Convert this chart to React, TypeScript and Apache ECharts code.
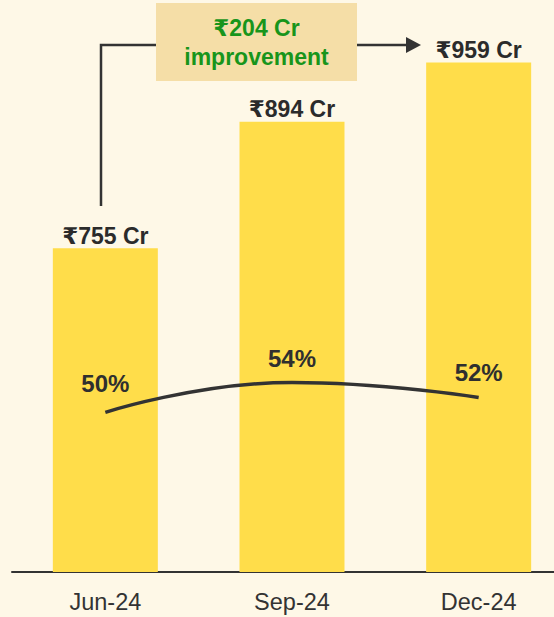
import React, { useEffect, useRef } from "react";
import * as echarts from "echarts";

const categories = ["Jun-24", "Sep-24", "Dec-24"];
const revenueCr = [755, 894, 959];
const marginPct = [50, 54, 52];
const annotationLines = ["₹204 Cr", "improvement"];

const FONT = "'Liberation Sans', Arial, 'DejaVu Sans', sans-serif";

export default function App() {
  const ref = useRef<HTMLDivElement>(null);
  useEffect(() => {
    document.body.style.margin = "0";
    const chart = echarts.init(ref.current!, null, { renderer: "svg" });
    const labelDist = [16, 11, 12];
    chart.setOption({
      animation: false,
      backgroundColor: "#FEF8E7",
      textStyle: { fontFamily: FONT },
      grid: { left: 12, top: 25, bottom: 45, width: 560, outerBoundsMode: "none", containLabel: false },
      xAxis: {
        type: "category",
        data: categories,
        axisLine: { lineStyle: { color: "#333333", width: 2 } },
        axisTick: { show: false },
        axisLabel: { color: "#333333", fontSize: 23.5, margin: 18, fontFamily: FONT },
      },
      yAxis: [
        { type: "value", min: 400, max: 1000, show: false, splitLine: { show: false } },
        { type: "value", min: 28.7, max: 101.7, show: false, splitLine: { show: false } },
      ],
      series: [
        {
          type: "bar",
          data: revenueCr,
          barWidth: 105,
          itemStyle: { color: "#FFDD4A" },
          label: {
            show: true,
            position: "top",
            distance: 1,
            formatter: (p: any) => `₹${p.value} Cr`,
            color: "#2B2B2B",
            fontWeight: "bold",
            fontSize: 23,
            fontFamily: FONT,
          },
        },
        {
          type: "line",
          yAxisIndex: 1,
          data: marginPct.map((v, i) => ({ value: v, label: { distance: labelDist[i] } })),
          smooth: 0.5,
          symbol: "circle",
          symbolSize: 1,
          showSymbol: true,
          itemStyle: { color: "rgba(0,0,0,0)" },
          lineStyle: { color: "#333333", width: 3.5 },
          label: {
            show: true,
            position: "top",
            formatter: (p: any) => `${p.value}%`,
            color: "#2F2F2F",
            fontWeight: "bold",
            fontSize: 24,
            fontFamily: FONT,
          },
        },
      ],
      graphic: [
        {
          type: "polyline",
          shape: { points: [[101, 206], [101, 45], [156, 45]] },
          style: { stroke: "#333333", lineWidth: 2.5, fill: null },
        },
        {
          type: "line",
          shape: { x1: 357, y1: 45, x2: 408, y2: 45 },
          style: { stroke: "#333333", lineWidth: 2.5 },
        },
        {
          type: "polygon",
          shape: { points: [[406, 37], [421, 45], [406, 53]] },
          style: { fill: "#333333" },
        },
        {
          type: "rect",
          shape: { x: 156, y: 3, width: 201, height: 78 },
          style: { fill: "#F5DEA7" },
        },
        {
          type: "text",
          x: 256.5,
          y: 28,
          style: {
            text: annotationLines[0],
            fill: "#18951B",
            font: `bold 23px ${FONT}`,
            align: "center",
            verticalAlign: "middle",
          },
        },
        {
          type: "text",
          x: 256.5,
          y: 57,
          style: {
            text: annotationLines[1],
            fill: "#18951B",
            font: `bold 23px ${FONT}`,
            align: "center",
            verticalAlign: "middle",
          },
        },
      ],
    });
    return () => chart.dispose();
  }, []);
  return <div ref={ref} style={{ width: 554, height: 617 }} />;
}
